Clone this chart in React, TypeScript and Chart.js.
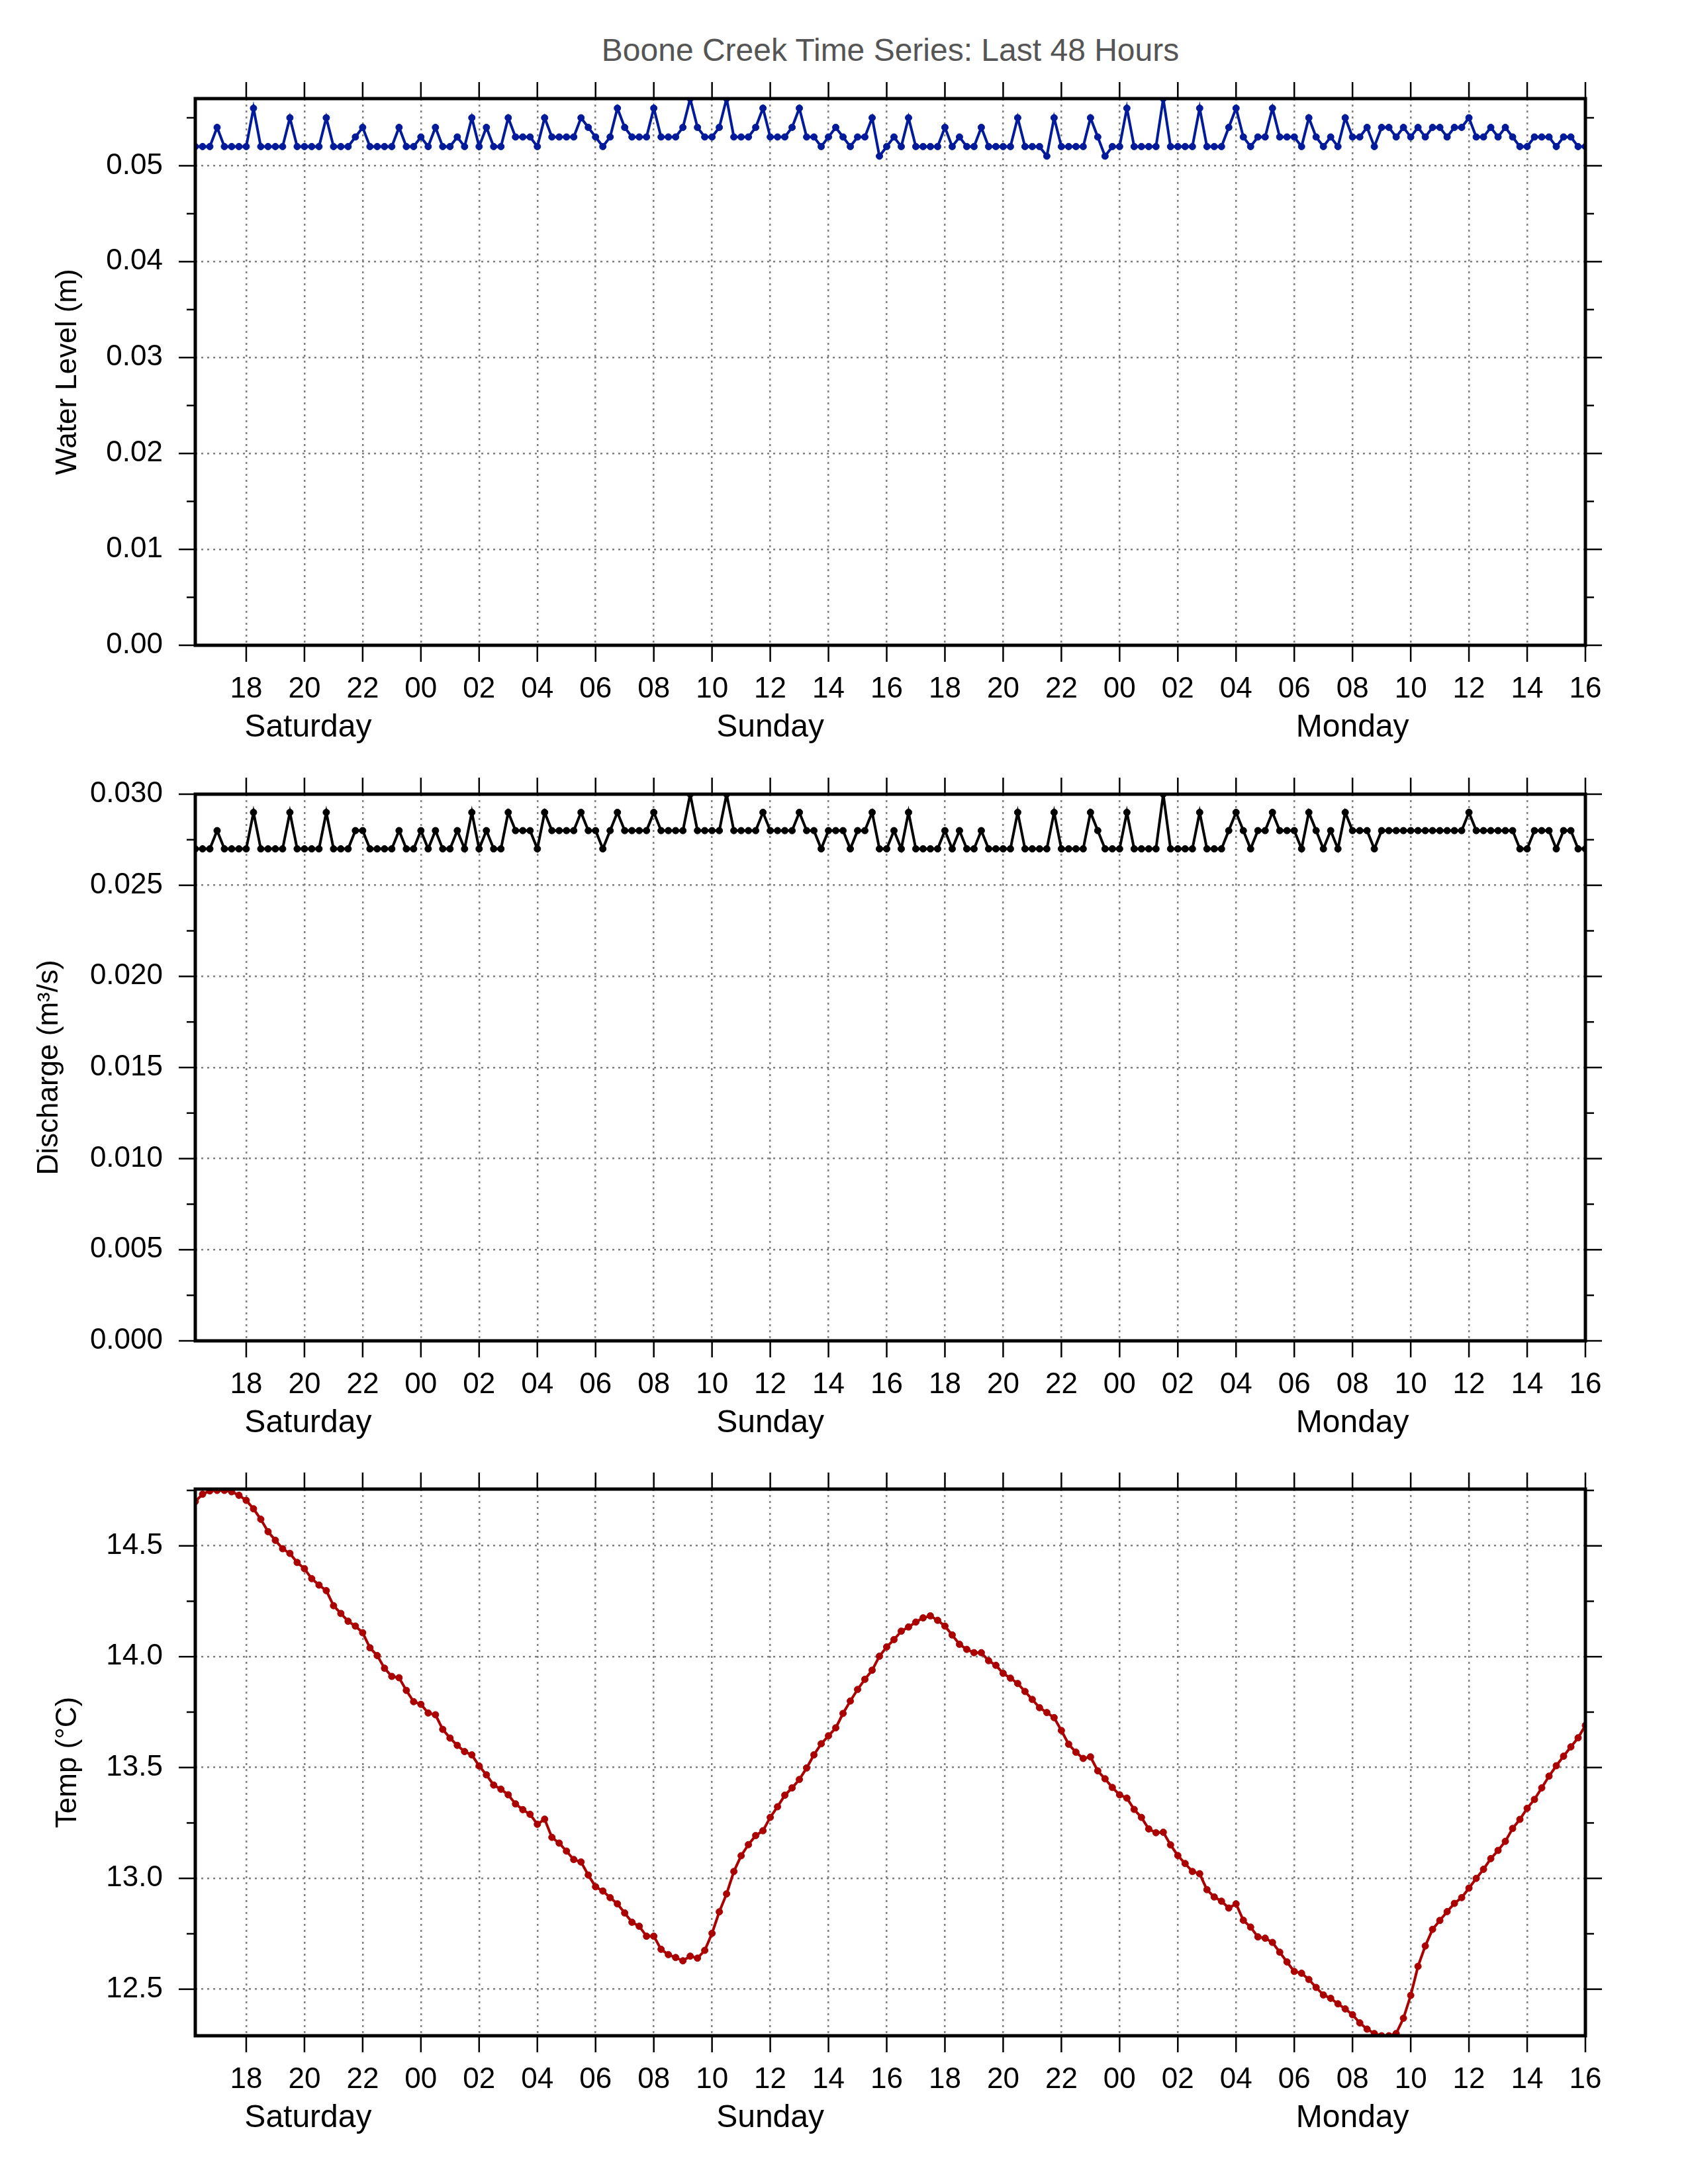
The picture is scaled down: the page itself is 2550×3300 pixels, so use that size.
import React, { useEffect, useRef } from 'react';
import { Chart, registerables } from 'chart.js';

Chart.register(...registerables);
Chart.defaults.font.family = '"Liberation Sans", Arial, sans-serif';

// 15-minute samples from Saturday 16:15 to Monday 16:00 (x = hours since Saturday 00:00)
const startHour = 16.25;
const stepHours = 0.25;
const dayNames = ['Saturday', 'Sunday', 'Monday'];

// Water level (m), one row = 2 hours
const waterLevel = [
  0.052, 0.052, 0.052, 0.054, 0.052, 0.052, 0.052, 0.052,
  0.056, 0.052, 0.052, 0.052, 0.052, 0.055, 0.052, 0.052,
  0.052, 0.052, 0.055, 0.052, 0.052, 0.052, 0.053, 0.054,
  0.052, 0.052, 0.052, 0.052, 0.054, 0.052, 0.052, 0.053,
  0.052, 0.054, 0.052, 0.052, 0.053, 0.052, 0.055, 0.052,
  0.054, 0.052, 0.052, 0.055, 0.053, 0.053, 0.053, 0.052,
  0.055, 0.053, 0.053, 0.053, 0.053, 0.055, 0.054, 0.053,
  0.052, 0.053, 0.056, 0.054, 0.053, 0.053, 0.053, 0.056,
  0.053, 0.053, 0.053, 0.054, 0.057, 0.054, 0.053, 0.053,
  0.054, 0.057, 0.053, 0.053, 0.053, 0.054, 0.056, 0.053,
  0.053, 0.053, 0.054, 0.056, 0.053, 0.053, 0.052, 0.053,
  0.054, 0.053, 0.052, 0.053, 0.053, 0.055, 0.051, 0.052,
  0.053, 0.052, 0.055, 0.052, 0.052, 0.052, 0.052, 0.054,
  0.052, 0.053, 0.052, 0.052, 0.054, 0.052, 0.052, 0.052,
  0.052, 0.055, 0.052, 0.052, 0.052, 0.051, 0.055, 0.052,
  0.052, 0.052, 0.052, 0.055, 0.053, 0.051, 0.052, 0.052,
  0.056, 0.052, 0.052, 0.052, 0.052, 0.057, 0.052, 0.052,
  0.052, 0.052, 0.056, 0.052, 0.052, 0.052, 0.054, 0.056,
  0.053, 0.052, 0.053, 0.053, 0.056, 0.053, 0.053, 0.053,
  0.052, 0.055, 0.053, 0.052, 0.053, 0.052, 0.055, 0.053,
  0.053, 0.054, 0.052, 0.054, 0.054, 0.053, 0.054, 0.053,
  0.054, 0.053, 0.054, 0.054, 0.053, 0.054, 0.054, 0.055,
  0.053, 0.053, 0.054, 0.053, 0.054, 0.053, 0.052, 0.052,
  0.053, 0.053, 0.053, 0.052, 0.053, 0.053, 0.052, 0.052,
];

// Discharge (m3/s)
const discharge = [
  0.027, 0.027, 0.027, 0.028, 0.027, 0.027, 0.027, 0.027,
  0.029, 0.027, 0.027, 0.027, 0.027, 0.029, 0.027, 0.027,
  0.027, 0.027, 0.029, 0.027, 0.027, 0.027, 0.028, 0.028,
  0.027, 0.027, 0.027, 0.027, 0.028, 0.027, 0.027, 0.028,
  0.027, 0.028, 0.027, 0.027, 0.028, 0.027, 0.029, 0.027,
  0.028, 0.027, 0.027, 0.029, 0.028, 0.028, 0.028, 0.027,
  0.029, 0.028, 0.028, 0.028, 0.028, 0.029, 0.028, 0.028,
  0.027, 0.028, 0.029, 0.028, 0.028, 0.028, 0.028, 0.029,
  0.028, 0.028, 0.028, 0.028, 0.030, 0.028, 0.028, 0.028,
  0.028, 0.030, 0.028, 0.028, 0.028, 0.028, 0.029, 0.028,
  0.028, 0.028, 0.028, 0.029, 0.028, 0.028, 0.027, 0.028,
  0.028, 0.028, 0.027, 0.028, 0.028, 0.029, 0.027, 0.027,
  0.028, 0.027, 0.029, 0.027, 0.027, 0.027, 0.027, 0.028,
  0.027, 0.028, 0.027, 0.027, 0.028, 0.027, 0.027, 0.027,
  0.027, 0.029, 0.027, 0.027, 0.027, 0.027, 0.029, 0.027,
  0.027, 0.027, 0.027, 0.029, 0.028, 0.027, 0.027, 0.027,
  0.029, 0.027, 0.027, 0.027, 0.027, 0.030, 0.027, 0.027,
  0.027, 0.027, 0.029, 0.027, 0.027, 0.027, 0.028, 0.029,
  0.028, 0.027, 0.028, 0.028, 0.029, 0.028, 0.028, 0.028,
  0.027, 0.029, 0.028, 0.027, 0.028, 0.027, 0.029, 0.028,
  0.028, 0.028, 0.027, 0.028, 0.028, 0.028, 0.028, 0.028,
  0.028, 0.028, 0.028, 0.028, 0.028, 0.028, 0.028, 0.029,
  0.028, 0.028, 0.028, 0.028, 0.028, 0.028, 0.027, 0.027,
  0.028, 0.028, 0.028, 0.027, 0.028, 0.028, 0.027, 0.027,
];

// Water temperature (°C)
const temperature = [
  14.70, 14.733, 14.748, 14.75, 14.75, 14.744, 14.728, 14.705,
  14.667, 14.62, 14.564, 14.525, 14.487, 14.466, 14.425, 14.397,
  14.352, 14.323, 14.298, 14.23, 14.195, 14.16, 14.138, 14.108,
  14.04, 14.005, 13.948, 13.911, 13.905, 13.848, 13.797, 13.785,
  13.746, 13.738, 13.672, 13.633, 13.60, 13.572, 13.557, 13.507,
  13.467, 13.421, 13.402, 13.377, 13.336, 13.31, 13.289, 13.244,
  13.267, 13.185, 13.159, 13.123, 13.085, 13.074, 13.015, 12.962,
  12.943, 12.913, 12.885, 12.844, 12.802, 12.784, 12.739, 12.739,
  12.68, 12.656, 12.643, 12.628, 12.649, 12.64, 12.675, 12.752,
  12.849, 12.93, 13.031, 13.102, 13.152, 13.193, 13.215, 13.275,
  13.323, 13.375, 13.408, 13.446, 13.498, 13.557, 13.607, 13.643,
  13.679, 13.744, 13.80, 13.852, 13.898, 13.939, 14.002, 14.044,
  14.077, 14.115, 14.134, 14.156, 14.175, 14.184, 14.164, 14.138,
  14.098, 14.056, 14.033, 14.018, 14.018, 13.982, 13.961, 13.925,
  13.903, 13.879, 13.843, 13.807, 13.77, 13.748, 13.725, 13.667,
  13.605, 13.569, 13.541, 13.548, 13.485, 13.449, 13.41, 13.377,
  13.362, 13.311, 13.275, 13.223, 13.206, 13.208, 13.151, 13.103,
  13.067, 13.031, 13.021, 12.949, 12.916, 12.897, 12.866, 12.885,
  12.811, 12.78, 12.736, 12.73, 12.711, 12.667, 12.623, 12.58,
  12.572, 12.544, 12.508, 12.474, 12.459, 12.434, 12.411, 12.385,
  12.348, 12.32, 12.30, 12.29, 12.29, 12.30, 12.369, 12.472,
  12.603, 12.695, 12.77, 12.81, 12.85, 12.887, 12.913, 12.956,
  13.0, 13.041, 13.089, 13.126, 13.167, 13.225, 13.266, 13.316,
  13.356, 13.408, 13.461, 13.508, 13.551, 13.593, 13.634, 13.69,
];

const times = waterLevel.map((_, i) => startHour + i * stepHours);
const xMin = times[0];
const xMax = times[times.length - 1];

// page layout (px)
const PAGE_W = 2550;
const PLOT_LEFT = 295;
const PLOT_RIGHT = 2395;
const PLOT_H = 826;
const PAD_TOP = 60;
const BELOW = 200;

const gridColor = '#808080';
const tickFont = { size: 44 };

const frameTicks = {
  id: 'frameTicks',
  afterDraw(chart: any, _args: any, opts: any) {
    const { ctx, chartArea } = chart;
    const { left, right, top, bottom } = chartArea;
    const x = chart.scales.x;
    const y = chart.scales.y;
    const seg = (x1: number, y1: number, x2: number, y2: number) => {
      ctx.beginPath();
      ctx.moveTo(x1, y1);
      ctx.lineTo(x2, y2);
      ctx.stroke();
    };
    ctx.save();
    ctx.setLineDash([]);
    ctx.strokeStyle = '#000';
    ctx.lineWidth = 2.5;
    x.ticks.forEach((t: any) => {
      const px = x.getPixelForValue(t.value);
      seg(px, bottom, px, bottom + 25);
      seg(px, top, px, top - 25);
    });
    y.ticks.forEach((t: any) => {
      const py = y.getPixelForValue(t.value);
      seg(left, py, left - 25, py);
      seg(right, py, right + 25, py);
    });
    const m = opts.minorStep;
    for (let k = Math.ceil(y.min / m - 1e-9); k * m <= y.max + 1e-9; k++) {
      if (k % 2 === 0) continue;
      const py = y.getPixelForValue(k * m);
      seg(left, py, left - 13, py);
      seg(right, py, right + 13, py);
    }
    ctx.lineWidth = 5;
    ctx.strokeRect(left, top, right - left, bottom - top);
    ctx.restore();
  },
};

// keep Chart.js from pushing the plot area in for overhanging labels
const noOverhang = (s: any) => {
  s.paddingTop = 0;
  s.paddingBottom = 0;
  s.paddingLeft = 0;
  s.paddingRight = 0;
};

interface PanelProps {
  values: number[];
  color: string;
  yLabel: string;
  yMin: number;
  yMax: number;
  yStep: number;
  decimals: number;
  plotTop: number;
  titleCenter: number;
}

const Panel: React.FC<PanelProps> = ({ values, color, yLabel, yMin, yMax, yStep, decimals, plotTop, titleCenter }) => {
  const canvasRef = useRef<HTMLCanvasElement>(null);
  const height = PAD_TOP + PLOT_H + BELOW;

  useEffect(() => {
    if (!canvasRef.current) return;
    const chart = new Chart(canvasRef.current, {
      type: 'line',
      data: {
        datasets: [
          {
            data: values.map((v, i) => ({ x: times[i], y: v })),
            borderColor: color,
            backgroundColor: color,
            pointBackgroundColor: color,
            pointBorderColor: color,
            pointRadius: 5,
            pointBorderWidth: 1,
            borderWidth: 4,
            tension: 0,
          },
        ],
      },
      options: {
        responsive: false,
        animation: false,
        devicePixelRatio: 1,
        events: [],
        layout: { padding: { top: PAD_TOP, right: PAGE_W - PLOT_RIGHT, bottom: 0, left: 0 } },
        plugins: {
          legend: { display: false },
          tooltip: { enabled: false },
          frameTicks: { minorStep: yStep / 2 },
        } as any,
        scales: {
          x: {
            type: 'linear',
            min: xMin,
            max: xMax,
            weight: 0,
            afterBuildTicks: (s: any) => {
              const ticks = [];
              for (let h = Math.ceil(xMin / 2) * 2; h <= xMax; h += 2) ticks.push({ value: h });
              s.ticks = ticks;
            },
            ticks: {
              callback: (v: any) => String(Math.round(v) % 24).padStart(2, '0'),
              font: tickFont,
              color: '#000',
              padding: 40,
              autoSkip: false,
              maxRotation: 0,
            },
            grid: { color: gridColor, lineWidth: 2.5, drawTicks: false },
            border: { display: false, dash: [3, 6] },
            afterFit: (s: any) => {
              s.height = 90;
              noOverhang(s);
            },
          },
          xDay: {
            type: 'linear',
            position: 'bottom',
            min: xMin,
            max: xMax,
            weight: 1,
            afterBuildTicks: (s: any) => {
              s.ticks = dayNames.map((_, d) => ({
                value: (Math.max(xMin, d * 24) + Math.min(xMax, (d + 1) * 24)) / 2,
              }));
            },
            ticks: {
              callback: (_v: any, i: number) => dayNames[i],
              font: { size: 48 },
              color: '#000',
              padding: 6,
              autoSkip: false,
              maxRotation: 0,
            },
            grid: { display: false, drawTicks: false },
            border: { display: false },
            afterFit: (s: any) => {
              s.height = BELOW - 90;
              noOverhang(s);
            },
          },
          y: {
            type: 'linear',
            min: yMin,
            max: yMax,
            afterBuildTicks: (s: any) => {
              const ticks = [];
              for (let k = Math.ceil(yMin / yStep - 1e-9); k * yStep <= yMax + 1e-9; k++) {
                ticks.push({ value: k * yStep });
              }
              s.ticks = ticks;
            },
            ticks: {
              callback: (v: any) => Number(v).toFixed(decimals),
              font: tickFont,
              color: '#000',
              padding: 49,
            },
            grid: { color: gridColor, lineWidth: 2.5, drawTicks: false },
            border: { display: false, dash: [3, 6] },
            title: {
              display: true,
              text: yLabel,
              color: '#000',
              font: { size: 44 },
              padding: { top: titleCenter - 26.4, bottom: 0 },
            },
            afterFit: (s: any) => {
              s.width = PLOT_LEFT;
              noOverhang(s);
            },
          },
        },
      } as any,
      plugins: [frameTicks],
    });
    return () => {
      chart.destroy();
    };
  }, [values, color, yLabel, yMin, yMax, yStep, decimals, titleCenter]);

  return (
    <canvas
      ref={canvasRef}
      width={PAGE_W}
      height={height}
      style={{ position: 'absolute', left: 0, top: plotTop - PAD_TOP, width: PAGE_W, height }}
    />
  );
};

const App: React.FC = () => {
  return (
    <div style={{ position: 'absolute', left: 0, top: 0, width: PAGE_W, height: 3300, background: '#fff' }}>
      <div
        style={{
          position: 'absolute',
          left: PLOT_LEFT,
          width: PLOT_RIGHT - PLOT_LEFT,
          top: 47,
          lineHeight: '58px',
          fontSize: 48,
          textAlign: 'center',
          color: '#555',
          fontFamily: '"Liberation Sans", Arial, sans-serif',
        }}
      >
        Boone Creek Time Series: Last 48 Hours
      </div>
      <Panel
        values={waterLevel}
        color="#001a9a"
        yLabel="Water Level (m)"
        yMin={0}
        yMax={0.057}
        yStep={0.01}
        decimals={2}
        plotTop={149}
        titleCenter={103}
      />
      <Panel
        values={discharge}
        color="#000000"
        yLabel="Discharge (m³/s)"
        yMin={0}
        yMax={0.03}
        yStep={0.005}
        decimals={3}
        plotTop={1200}
        titleCenter={75}
      />
      <Panel
        values={temperature}
        color="#aa0000"
        yLabel="Temp (°C)"
        yMin={12.29}
        yMax={14.756}
        yStep={0.5}
        decimals={1}
        plotTop={2250}
        titleCenter={103}
      />
    </div>
  );
};

export default App;
